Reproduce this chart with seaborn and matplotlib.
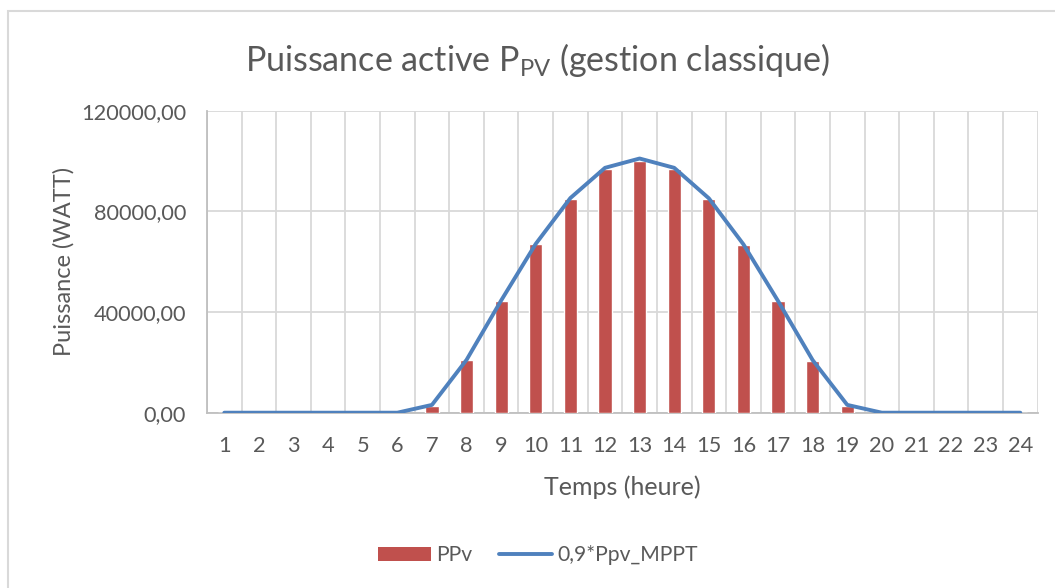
import numpy as np
import pandas as pd
import matplotlib
matplotlib.use("Agg")
import matplotlib.pyplot as plt
import seaborn as sns
from matplotlib.patches import Rectangle
from matplotlib.lines import Line2D
from matplotlib.patches import Patch

# Hourly data (hours 1..24)
heures = list(range(1, 25))
ppv = [0, 0, 0, 0, 0, 0, 2800, 20900, 44400, 66900, 85100, 96800,
       100200, 96800, 84900, 66700, 44200, 20700, 2800, 0, 0, 0, 0, 0]
ppv_mppt_09 = [0, 0, 0, 0, 0, 0, 3100, 21000, 44600, 67100, 85300, 97300,
               101000, 97300, 85200, 66900, 44400, 20900, 3100, 0, 0, 0, 0, 0]
y_ticks = [0, 40000, 80000, 120000]
y_tick_labels = ["0,00", "40000,00", "80000,00", "120000,00"]

df = pd.DataFrame({"heure": heures, "PPv": ppv, "MPPT": ppv_mppt_09})
df["pos"] = np.arange(len(df))

sns.set_theme(style="white")
plt.rcParams["font.family"] = ["Lato", "DejaVu Sans"]
plt.rcParams["mathtext.fontset"] = "custom"
plt.rcParams["mathtext.rm"] = "Lato"
plt.rcParams["mathtext.it"] = "Lato"

TEXT = "#595959"
GRID = "#D9D9D9"
RED = "#C0504D"
BLUE = "#4F81BD"
LW = 2.8

fig = plt.figure(figsize=(10.55, 5.88), dpi=100)
ax = fig.add_axes([207 / 1055, 1 - 412.7 / 588, (1037.6 - 207) / 1055, (412.7 - 110.7) / 588])

# outer chart frame
fig.patches.append(Rectangle((7.5 / 1055, -0.1), 1.2, 1 - 10.5 / 588 + 0.1,
                             transform=fig.transFigure, fill=False,
                             edgecolor="#D9D9D9", lw=1.5, zorder=0))

sns.barplot(data=df, x="heure", y="PPv", color=RED, width=0.385,
            saturation=1, ax=ax, zorder=3)
sns.lineplot(data=df, x="pos", y="MPPT", color=BLUE, lw=LW, ax=ax,
             zorder=4)

ax.set_xlim(-0.5, len(heures) - 0.5)
ax.set_ylim(0, 120000)
ax.set_yticks(y_ticks)
ax.set_yticklabels(y_tick_labels)
ax.set_xticks(df["pos"])
ax.set_xticklabels([str(h) for h in heures])
ax.set_xticks(np.arange(len(heures) + 1) - 0.5, minor=True)

ax.grid(False)
ax.grid(axis="y", which="major", color=GRID, lw=1.3, zorder=0)
ax.grid(axis="x", which="minor", color=GRID, lw=1.3, zorder=0)
ax.set_axisbelow(True)

for s in ["top", "right"]:
    ax.spines[s].set_visible(False)
for s in ["left", "bottom"]:
    ax.spines[s].set_color("#BFBFBF")
    ax.spines[s].set_linewidth(1.3)

ax.tick_params(axis="x", which="major", length=0, pad=17, labelsize=15.7, labelcolor=TEXT)
ax.tick_params(axis="x", which="minor", length=0)
ax.tick_params(axis="y", which="major", length=3, color="#BFBFBF", width=1.3,
               pad=12, labelsize=15.7, labelcolor=TEXT)

ax.set_xlabel("Temps (heure)", fontsize=18, color=TEXT, labelpad=14)
ax.set_ylabel("Puissance (WATT)", fontsize=17, color=TEXT, labelpad=5)

fig.text(538 / 1055, 1 - 60 / 588,
         r"Puissance active P$_{\mathrm{PV}}$ (gestion classique)",
         ha="center", va="center", fontsize=24.5, color=TEXT)

handles = [Patch(facecolor=RED, edgecolor="none"),
           Line2D([0], [0], color=BLUE, lw=LW)]
fig.legend(handles, ["PPv", "0,9*Ppv_MPPT"], loc="center",
           bbox_to_anchor=(538 / 1055, 1 - 555 / 588), ncol=2, frameon=False,
           fontsize=15.2, labelcolor=TEXT, handlelength=2.5, handleheight=0.65,
           handletextpad=0.25, columnspacing=1.25)

fig.savefig("out.png", dpi=100, facecolor="white")
